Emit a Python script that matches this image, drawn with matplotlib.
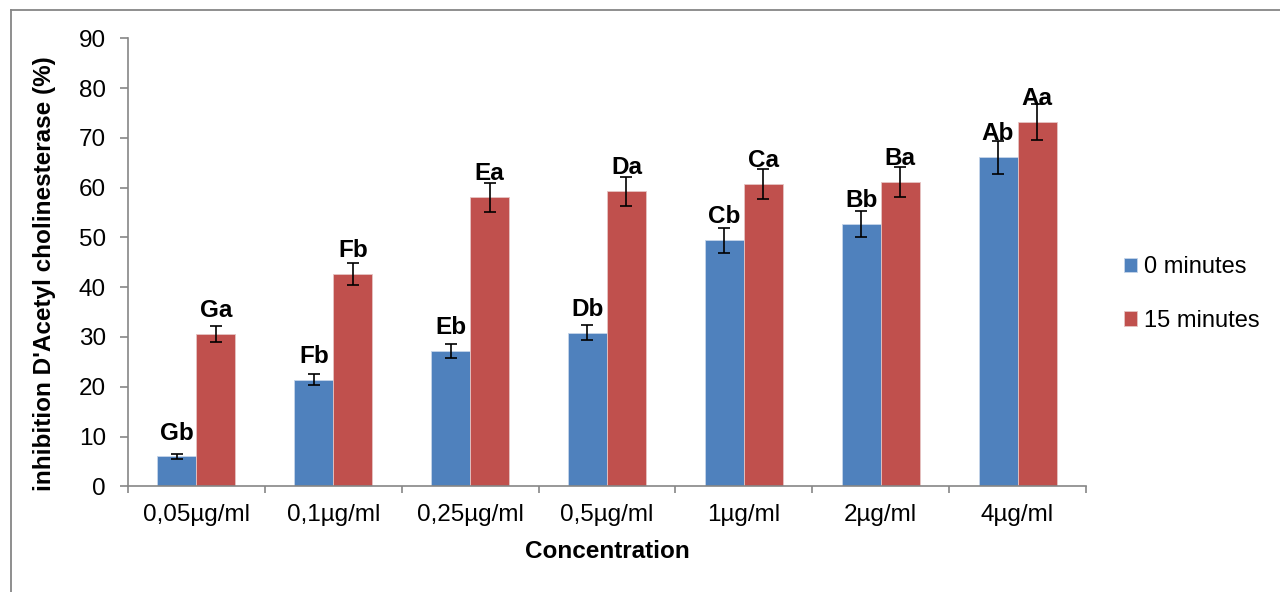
import numpy as np
import matplotlib
matplotlib.use('Agg')
import matplotlib.pyplot as plt
from matplotlib.lines import Line2D

## Dados
concentracoes = ['0,05µg/ml', '0,1µg/ml', '0,25µg/ml', '0,5µg/ml', '1µg/ml', '2µg/ml', '4µg/ml']
min0 = [6.0, 21.4, 27.2, 30.9, 49.4, 52.7, 66.1]
min0_err = [0.5, 1.1, 1.4, 1.6, 2.5, 2.6, 3.3]
min15 = [30.6, 42.7, 58.1, 59.3, 60.8, 61.2, 73.2]
min15_err = [1.6, 2.2, 2.9, 2.9, 3.0, 3.0, 3.7]
letras0 = ['Gb', 'Fb', 'Eb', 'Db', 'Cb', 'Bb', 'Ab']
letras15 = ['Ga', 'Fb', 'Ea', 'Da', 'Ca', 'Ba', 'Aa']

plt.rcParams['font.family'] = ['Liberation Sans', 'DejaVu Sans']
cinza = '#868686'
fs = 17.5

fig = plt.figure(figsize=(12.8, 5.92), dpi=100)
ax = fig.add_axes([0.1, 0.1785, 0.7484, 0.7568])

x = np.arange(len(concentracoes))
w = 0.285
ax.bar(x - w/2, min0, w, color='#4F81BD', edgecolor='#c6d5ea', linewidth=0.6,
       label='0 minutes', zorder=2)
ax.bar(x + w/2, min15, w, color='#C0504D', edgecolor='#e6c4c3', linewidth=0.6,
       label='15 minutes', zorder=2)
ax.errorbar(x - w/2, min0, yerr=min0_err, fmt='none', ecolor='black',
            elinewidth=1.2, capsize=4, capthick=1.2, zorder=3)
ax.errorbar(x + w/2, min15, yerr=min15_err, fmt='none', ecolor='black',
            elinewidth=1.2, capsize=4, capthick=1.2, zorder=3)

## Letras de significância
for xi, v, t in zip(x - w/2, min0, letras0):
    ax.annotate(t, (xi, v), xytext=(0, 12.2), textcoords='offset points',
                ha='center', va='baseline', fontsize=fs, fontweight='bold', zorder=4)
for xi, v, t in zip(x + w/2, min15, letras15):
    ax.annotate(t, (xi, v), xytext=(0, 12.2), textcoords='offset points',
                ha='center', va='baseline', fontsize=fs, fontweight='bold', zorder=4)

ax.set_xlim(-0.5, len(concentracoes) - 0.5)
ax.set_ylim(0, 90)
ax.set_yticks(range(0, 91, 10))
ax.set_xticks(x)
ax.set_xticklabels(concentracoes)
ax.set_xticks(np.arange(-0.5, len(concentracoes)), minor=True)
ax.tick_params(axis='x', which='major', length=0, pad=13, labelsize=fs)
ax.tick_params(axis='x', which='minor', length=5, width=1.2, color=cinza, direction='out')
ax.tick_params(axis='y', length=6, width=1.2, color=cinza, pad=10, labelsize=fs)

for s in ['top', 'right']:
    ax.spines[s].set_visible(False)
for s in ['left', 'bottom']:
    ax.spines[s].set_color(cinza)
    ax.spines[s].set_linewidth(1.2)

fig.text(607/1280, 1 - 551/592, 'Concentration', ha='center', va='center',
         fontsize=fs, fontweight='bold')
fig.text(45/1280, 1 - 274/592, "inhibition D'Acetyl cholinesterase (%)", ha='center',
         va='center', rotation=90, fontsize=fs, fontweight='bold')

ax.legend(loc='center left', bbox_to_anchor=(1103/1280, 1 - 294/592),
          bbox_transform=fig.transFigure, frameon=False, fontsize=17,
          handlelength=0.55, handleheight=0.55, handletextpad=0.3, labelspacing=1.35)

## Borda da área do gráfico
fig.add_artist(Line2D([11/1280, 11/1280], [0, 1 - 10/592], color=cinza, lw=1.3,
                      transform=fig.transFigure))
fig.add_artist(Line2D([11/1280, 1], [1 - 10/592, 1 - 10/592], color=cinza, lw=1.3,
                      transform=fig.transFigure))

fig.savefig('out.png', dpi=100)
